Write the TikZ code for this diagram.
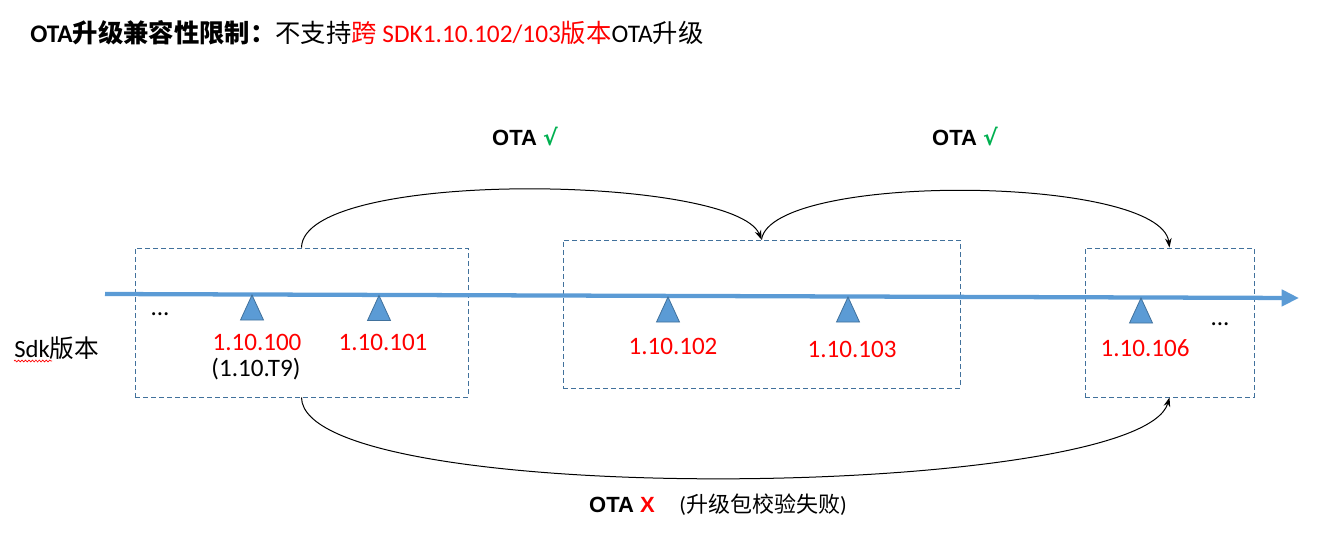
\documentclass[tikz,border=0pt]{standalone}
\usepackage{fontspec}
\setmainfont{Carlito}
\newfontfamily\cjk{Noto Sans CJK SC}
\newfontfamily\arialf{Liberation Sans}
\newfontfamily\djv{DejaVu Sans}
\usetikzlibrary{arrows.meta,decorations.pathmorphing,fit}
\definecolor{axisblue}{HTML}{5B9BD5}
\definecolor{edgeblue}{HTML}{41719C}
\definecolor{okgreen}{HTML}{00B050}
\definecolor{badred}{HTML}{FF0000}
\tikzset{
  vbox/.style={draw=edgeblue, line width=0.7pt, dash pattern=on 3.5pt off 2.5pt, inner sep=0pt, rectangle},
  tri/.style={fill=axisblue, draw=edgeblue, line width=0.6pt},
  ver/.style={text=badred, font=\fontsize{18.8}{22}\selectfont, inner sep=0pt},
  plain/.style={font=\fontsize{18.8}{22}\selectfont, inner sep=0pt},
  otalbl/.style={font=\arialf\bfseries\fontsize{16.5}{20}\selectfont, inner sep=0pt},
  jump/.style={line width=0.75pt, -{Stealth[length=7pt,width=5pt]}},
}
\begin{document}
\begin{tikzpicture}[x=0.75pt,y=-0.75pt]
\useasboundingbox (0,0) rectangle (1319,546);
% title
\node[anchor=west, inner sep=0pt, font=\fontsize{19}{22}\selectfont] (title) at (30,33)
  {\textbf{OTA}{\cjk\bfseries 升级兼容性限制：}{\cjk 不支持}\textcolor{badred}{{\cjk 跨} SDK1.10.102/103{\cjk 版本}}OTA{\cjk 升级}};
% boxes
\node[vbox, fit={(135,248) (468,397)}] (box1) {};
\node[vbox, fit={(563,240) (960,388)}] (box2) {};
\node[vbox, fit={(1085,248) (1254,397)}] (box3) {};
% axis
\coordinate (axs) at (105,294);
\coordinate (axe) at (1299,298);
\draw[axisblue, line width=3.2pt, -{Triangle[length=13pt,width=12pt]}] (axs) -- (axe);
% triangles
\foreach \x/\y in {252/295, 379/295.5, 668/297, 848/297, 1141/298}{
  \filldraw[tri] (\x,\y) -- (\x+11.5,\y+25) -- (\x-11.5,\y+25) -- cycle;
}
% labels
\node[ver] (v100) at (257,342) {1.10.100};
\node[plain] (t9) at (256,369) {(1.10.T9)};
\node[ver] (v101) at (383,342) {1.10.101};
\node[ver] (v102) at (673,346) {1.10.102};
\node[ver] (v103) at (852,349) {1.10.103};
\node[ver] (v106) at (1145,348) {1.10.106};
\node[plain] (dots1) at (160,314) {...};
\node[plain] (dots2) at (1220,324) {...};
\node[anchor=west, inner sep=0pt, font=\fontsize{18.5}{22}\selectfont] (sdk) at (14,348) {Sdk{\cjk 版本}};
\draw[badred, line width=0.5pt, decorate, decoration={snake, amplitude=0.7pt, segment length=2.6pt}] (14,361) -- (52,361);
% arcs
\draw[jump] (box1.north) .. controls (303,168) and (735,175) .. (box2.north);
\draw[jump] (box2.north) .. controls (772,172) and (1160,175) .. (box3.north);
\draw[jump] (box1.south) .. controls (303,510) and (1140,500) .. (box3.south);
% OTA labels
\node[otalbl] (ok1) at (525,137) {OTA \textcolor{okgreen}{\djv\bfseries √}};
\node[otalbl] (ok2) at (965,137) {OTA \textcolor{okgreen}{\djv\bfseries √}};
\node[otalbl] (bad) at (622,505) {OTA \textcolor{badred}{X}};
\node[inner sep=0pt, font=\fontsize{16.5}{20}\selectfont] (why) at (763,505) {({\cjk 升级包校验失败})};
\end{tikzpicture}
\end{document}
